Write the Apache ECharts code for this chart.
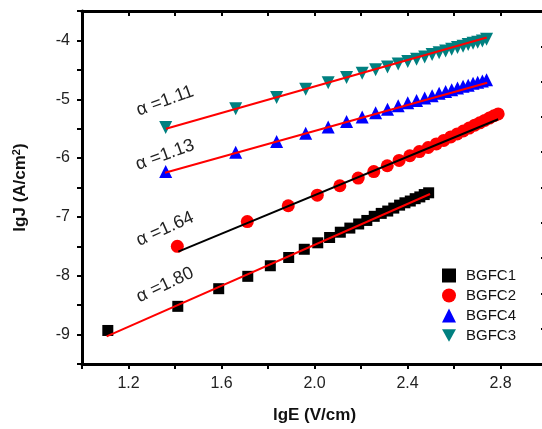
<!DOCTYPE html>
<html>
<head>
<meta charset="utf-8">
<script src="https://cdn.jsdelivr.net/npm/echarts@6/dist/echarts.min.js"></script>
<style>
html, body { margin: 0; padding: 0; background: #fff; }
#main { width: 542px; height: 429px; }
</style>
</head>
<body>
<div id="main"></div>
<script>
// lgJ vs lgE, four samples plus linear fits

var xTicks = [1.2, 1.6, 2.0, 2.4, 2.8];
var yTicks = [-9, -8, -7, -6, -5, -4];

var bgfc1X = [1.111, 1.412, 1.588, 1.713, 1.810, 1.889, 1.956, 2.014, 2.065, 2.111, 2.152, 2.190,
              2.225, 2.257, 2.287, 2.315, 2.341, 2.366, 2.389, 2.412, 2.433, 2.453, 2.472, 2.491];
var bgfc1Y = [-8.93, -8.52, -8.22, -8.01, -7.83, -7.69, -7.55, -7.44, -7.35, -7.26, -7.19, -7.12,
              -7.06, -6.99, -6.94, -6.90, -6.85, -6.80, -6.76, -6.73, -6.69, -6.66, -6.62, -6.59];

var bgfc2X = [1.410, 1.711, 1.887, 2.012, 2.109, 2.188, 2.255, 2.313, 2.364, 2.410, 2.451, 2.489,
              2.524, 2.556, 2.586, 2.614, 2.640, 2.665, 2.689, 2.711, 2.732, 2.752, 2.772, 2.790];
var bgfc2Y = [-7.50, -7.08, -6.81, -6.63, -6.47, -6.34, -6.23, -6.13, -6.04, -5.96, -5.89, -5.82,
              -5.76, -5.70, -5.64, -5.59, -5.54, -5.49, -5.44, -5.40, -5.36, -5.32, -5.28, -5.25];

// BGFC3 and BGFC4 share the same field points
var bgfc34X = [1.360, 1.661, 1.837, 1.962, 2.059, 2.138, 2.205, 2.263, 2.314, 2.360, 2.401, 2.439,
               2.474, 2.506, 2.536, 2.564, 2.590, 2.615, 2.639, 2.661, 2.682, 2.702, 2.722, 2.740];
var bgfc4Y = [-6.23, -5.90, -5.72, -5.58, -5.47, -5.38, -5.30, -5.23, -5.17, -5.11, -5.06, -5.02,
              -4.98, -4.94, -4.90, -4.87, -4.84, -4.81, -4.78, -4.76, -4.73, -4.71, -4.69, -4.67];
var bgfc3Y = [-5.48, -5.16, -4.97, -4.83, -4.72, -4.63, -4.56, -4.50, -4.45, -4.40, -4.36, -4.32,
              -4.28, -4.24, -4.21, -4.18, -4.15, -4.12, -4.10, -4.07, -4.05, -4.03, -4.01, -3.98];

// fit line end points
var fit1 = [[1.106, -9.03], [2.497, -6.61]];
var fit2 = [[1.414, -7.59], [2.790, -5.34]];
var fit4 = [[1.357, -6.25], [2.743, -4.72]];
var fit3 = [[1.361, -5.50], [2.741, -3.95]];

var alphaLabels = ['α =1.11', 'α =1.13', 'α =1.64', 'α =1.80'];

function pairs(xs, ys) {
    return xs.map(function (x, i) { return [x, ys[i]]; });
}

var FONT = 'Liberation Sans, Arial, sans-serif';
var DOWN_TRI = 'path://M0,0L10,0L5,9Z';

function alphaText(i, x, y, deg) {
    return {
        type: 'text', x: x, y: y, rotation: deg * Math.PI / 180,
        style: { text: alphaLabels[i], fontFamily: FONT, fontSize: 18, fill: '#222', align: 'center', verticalAlign: 'middle' }
    };
}

var chart = echarts.init(document.getElementById('main'));
var option = {
    animation: false,
    backgroundColor: '#fff',
    grid: {
        left: 82,
        top: 11,
        right: -5,
        bottom: 65,
        outerBoundsMode: 'none'
    },
    legend: {
        orient: 'vertical',
        left: 437,
        top: 263,
        itemWidth: 14,
        itemHeight: 14,
        itemGap: 5,
        data: ['BGFC1', 'BGFC2', 'BGFC4', 'BGFC3'],
        textStyle: {
            fontFamily: FONT,
            fontSize: 15,
            color: '#111',
            padding: [0, 0, 0, 5]
        }
    },
    xAxis: [{
        type: 'value',
        min: 1.0,
        max: 3.0,
        interval: 0.2,
        name: 'lgE (V/cm)',
        nameLocation: 'middle',
        nameGap: 43,
        nameTextStyle: { fontFamily: FONT, fontSize: 17, fontWeight: 'bold', color: '#111' },
        axisLine: { lineStyle: { color: '#000', width: 3 } },
        axisTick: { length: 5, lineStyle: { color: '#000', width: 2 } },
        splitLine: { show: false },
        axisLabel: {
            margin: 12,
            fontFamily: FONT,
            fontSize: 16,
            color: '#222',
            formatter: function (v) {
                var r = Math.round(v * 10);
                return xTicks.some(function (t) { return Math.round(t * 10) === r; }) ? v.toFixed(1) : '';
            }
        }
    }, {
        type: 'value',
        position: 'top',
        min: 1.0,
        max: 3.0,
        interval: 0.2,
        axisLine: { onZero: false, lineStyle: { color: '#000', width: 3 } },
        axisTick: { inside: true, length: 5, lineStyle: { color: '#000', width: 2 } },
        axisLabel: { show: false },
        splitLine: { show: false }
    }],
    yAxis: [{
        type: 'value',
        min: -9.5,
        max: -3.5,
        interval: 0.5,
        name: 'lgJ (A/cm{sup|2})',
        nameLocation: 'middle',
        nameGap: 52,
        nameRotate: 90,
        nameTextStyle: {
            fontFamily: FONT, fontSize: 17, fontWeight: 'bold', color: '#111',
            rich: {
                sup: { fontFamily: FONT, fontSize: 11, fontWeight: 'bold', color: '#111', verticalAlign: 'bottom', padding: [0, 0, 8, 0] }
            }
        },
        axisLine: { onZero: false, lineStyle: { color: '#000', width: 3 } },
        axisTick: { length: 5, lineStyle: { color: '#000', width: 2 } },
        splitLine: { show: false },
        axisLabel: {
            margin: 12,
            fontFamily: FONT,
            fontSize: 16,
            color: '#222',
            formatter: function (v) {
                return yTicks.indexOf(Math.round(v * 2) / 2) >= 0 ? String(v) : '';
            }
        }
    }, {
        type: 'value',
        position: 'right',
        min: 0,
        max: 10,
        interval: 1,
        axisLine: { show: true, onZero: false, lineStyle: { color: '#000', width: 3 } },
        axisTick: { inside: true, length: 6, lineStyle: { color: '#000', width: 2 } },
        axisLabel: { show: false },
        splitLine: { show: false }
    }],
    series: [{
        name: 'BGFC1',
        type: 'scatter',
        symbol: 'rect',
        symbolSize: 11,
        itemStyle: { color: '#000', opacity: 1 },
        data: pairs(bgfc1X, bgfc1Y),
        z: 2
    }, {
        name: 'BGFC2',
        type: 'scatter',
        symbol: 'circle',
        symbolSize: 13,
        itemStyle: { color: '#ff0000', opacity: 1 },
        data: pairs(bgfc2X, bgfc2Y),
        z: 2
    }, {
        name: 'BGFC4',
        type: 'scatter',
        symbol: 'triangle',
        symbolSize: 13,
        itemStyle: { color: '#0000ff', opacity: 1 },
        data: pairs(bgfc34X, bgfc4Y),
        z: 2
    }, {
        name: 'BGFC3',
        type: 'scatter',
        symbol: DOWN_TRI,
        symbolSize: 13,
        itemStyle: { color: '#008080', opacity: 1 },
        data: pairs(bgfc34X, bgfc3Y),
        z: 2
    }, {
        name: 'fit1',
        type: 'line',
        showSymbol: false,
        lineStyle: { color: '#ff0000', width: 2 },
        data: fit1,
        z: 3
    }, {
        name: 'fit2',
        type: 'line',
        showSymbol: false,
        lineStyle: { color: '#000', width: 2 },
        data: fit2,
        z: 3
    }, {
        name: 'fit4',
        type: 'line',
        showSymbol: false,
        lineStyle: { color: '#ff0000', width: 2 },
        data: fit4,
        z: 3
    }, {
        name: 'fit3',
        type: 'line',
        showSymbol: false,
        lineStyle: { color: '#ff0000', width: 2 },
        data: fit3,
        z: 3
    }],
    graphic: [
        alphaText(0, 165, 101, 20),
        alphaText(1, 165, 155, 20),
        alphaText(2, 165, 229, 24),
        alphaText(3, 165, 285, 25)
    ]
};
chart.setOption(option);
</script>
</body>
</html>
